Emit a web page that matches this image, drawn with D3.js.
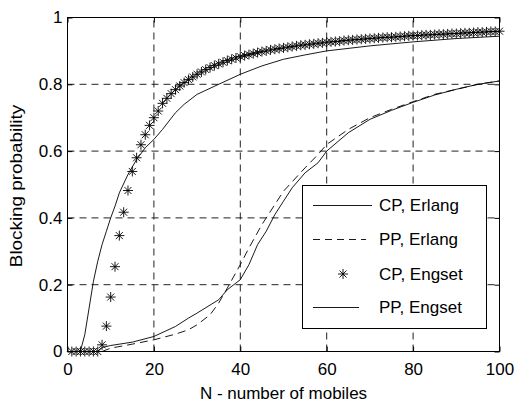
<!DOCTYPE html>
<html>
<head>
<meta charset="utf-8">
<script src="https://cdn.jsdelivr.net/npm/d3@7"></script>
<style>
  body { margin: 0; background: #fff; }
  svg text { font-family: "Liberation Sans", Arial, sans-serif; font-size: 17px; fill: #000; }
</style>
</head>
<body>
<div id="chart"></div>
<script>
// --- data ---
const xTicks = [0, 20, 40, 60, 80, 100];
const yTicks = [0, 0.2, 0.4, 0.6, 0.8, 1];
const legendLabels = ["CP, Erlang", "PP, Erlang", "CP, Engset", "PP, Engset"];

// CP, Erlang (solid)
const cpErlangN = [0, 1, 2, 3, 4, 5, 6, 7, 8, 9, 10, 11, 12, 14, 16, 18, 20, 22, 25, 27, 30, 35, 40, 45, 50, 55, 60, 70, 80, 90, 100];
const cpErlangP = [0, 0, 0, 0.002, 0.05, 0.13, 0.21, 0.27, 0.32, 0.36, 0.40, 0.435, 0.475, 0.53, 0.575, 0.61, 0.635, 0.665, 0.715, 0.74, 0.77, 0.80, 0.83, 0.855, 0.875, 0.888, 0.90, 0.915, 0.927, 0.937, 0.944];

// PP, Erlang (dashed)
const ppErlangN = [8, 10, 15, 20, 25, 28, 30, 33, 35, 37, 40, 42, 45, 48, 50, 55, 58, 60, 65, 70, 75, 80, 85, 90, 95, 100];
const ppErlangP = [0, 0.01, 0.022, 0.035, 0.052, 0.065, 0.08, 0.11, 0.145, 0.19, 0.26, 0.31, 0.38, 0.44, 0.48, 0.55, 0.59, 0.62, 0.665, 0.70, 0.725, 0.748, 0.77, 0.785, 0.80, 0.81];

// PP, Engset (solid)
const ppEngsetN = [7, 8, 10, 15, 20, 25, 28, 30, 35, 37, 39, 40, 42, 44, 46, 48, 50, 52, 55, 58, 60, 65, 70, 75, 80, 85, 90, 95, 100];
const ppEngsetP = [0, 0.012, 0.018, 0.028, 0.045, 0.075, 0.10, 0.115, 0.155, 0.185, 0.205, 0.215, 0.26, 0.32, 0.36, 0.41, 0.45, 0.49, 0.535, 0.565, 0.60, 0.655, 0.695, 0.722, 0.746, 0.768, 0.785, 0.80, 0.81];

// CP, Engset (asterisks), N = 1..100
const cpEngsetP = [
  0, 0, 0, 0, 0, 0, 0, 0.02, 0.076, 0.163,
  0.254, 0.347, 0.417, 0.482, 0.539, 0.58, 0.619, 0.649, 0.677, 0.70,
  0.72, 0.743, 0.758, 0.772, 0.784, 0.795, 0.805, 0.814, 0.822, 0.83,
  0.837, 0.844, 0.85, 0.856, 0.861, 0.866, 0.871, 0.875, 0.879, 0.883,
  0.886, 0.889, 0.892, 0.895, 0.898, 0.90, 0.903, 0.905, 0.907, 0.909,
  0.911, 0.913, 0.915, 0.917, 0.918, 0.92, 0.921, 0.923, 0.924, 0.926,
  0.927, 0.928, 0.929, 0.931, 0.932, 0.933, 0.934, 0.935, 0.936, 0.937,
  0.938, 0.939, 0.94, 0.941, 0.941, 0.942, 0.943, 0.944, 0.945, 0.946,
  0.946, 0.947, 0.948, 0.948, 0.949, 0.95, 0.95, 0.951, 0.952, 0.952,
  0.953, 0.954, 0.954, 0.955, 0.956, 0.956, 0.957, 0.958, 0.958, 0.959
];

const W = 516, H = 406;
const svg = d3.select("#chart").append("svg")
  .attr("width", W).attr("height", H);

const x = d3.scaleLinear().domain([0, 100]).range([67.5, 499.5]);
const y = d3.scaleLinear().domain([0, 1]).range([351.5, 17.5]);

// grid
const grid = svg.append("g")
  .attr("stroke", "#222")
  .attr("stroke-width", 1)
  .attr("stroke-dasharray", "7,5");
grid.selectAll(".vg").data(xTicks.slice(1, -1)).enter().append("line")
  .attr("x1", d => x(d)).attr("x2", d => x(d))
  .attr("y1", y(0)).attr("y2", y(1));
grid.selectAll(".hg").data(yTicks.slice(1, -1)).enter().append("line")
  .attr("x1", x(0)).attr("x2", x(100))
  .attr("y1", d => y(d)).attr("y2", d => y(d));

// axes (ticks point inward)
svg.append("g").attr("transform", `translate(0,${y(0)})`)
  .call(d3.axisBottom(x).tickValues(xTicks).tickSize(-5).tickPadding(11))
  .call(g => g.select(".domain").remove());
svg.append("g").attr("transform", `translate(${x(0)},0)`)
  .call(d3.axisLeft(y).tickValues(yTicks).tickSize(-5).tickPadding(5).tickFormat(d3.format("")))
  .call(g => g.select(".domain").remove());
svg.append("g").attr("transform", `translate(0,${y(1)})`)
  .call(d3.axisTop(x).tickValues(xTicks).tickSize(-5).tickFormat(""))
  .call(g => g.select(".domain").remove());
svg.append("g").attr("transform", `translate(${x(100)},0)`)
  .call(d3.axisRight(y).tickValues(yTicks).tickSize(-5).tickFormat(""))
  .call(g => g.select(".domain").remove());
svg.selectAll(".tick text").style("font-size", "17px").attr("fill", "#000");
svg.selectAll(".tick line").attr("stroke", "#000");

const line = d3.line().x(d => x(d[0])).y(d => y(d[1]));
const pairs = (ns, ps) => ns.map((n, i) => [n, ps[i]]);

// curves
svg.append("path").datum(pairs(cpErlangN, cpErlangP))
  .attr("d", line).attr("fill", "none").attr("stroke", "#000").attr("stroke-width", 0.9);
svg.append("path").datum(pairs(ppErlangN, ppErlangP))
  .attr("d", line).attr("fill", "none").attr("stroke", "#000").attr("stroke-width", 0.9)
  .attr("stroke-dasharray", "8,5");
svg.append("path").datum(pairs(ppEngsetN, ppEngsetP))
  .attr("d", line).attr("fill", "none").attr("stroke", "#000").attr("stroke-width", 0.9);

// asterisk marker
const star = "M0,-5V5M-5,0H5M-3.5,-3.5L3.5,3.5M-3.5,3.5L3.5,-3.5";
svg.append("g").selectAll("path")
  .data(cpEngsetP.map((p, i) => [i + 1, p]))
  .enter().append("path")
  .attr("transform", d => `translate(${x(d[0])},${y(d[1])})`)
  .attr("d", star).attr("fill", "none").attr("stroke", "#000").attr("stroke-width", 0.9);

// plot box
svg.append("rect")
  .attr("x", x(0)).attr("y", y(1))
  .attr("width", x(100) - x(0)).attr("height", y(0) - y(1))
  .attr("fill", "none").attr("stroke", "#000").attr("stroke-width", 1);

// axis titles
svg.append("text")
  .attr("x", (x(0) + x(100)) / 2).attr("y", 399)
  .attr("text-anchor", "middle")
  .text("N - number of mobiles");
svg.append("text")
  .attr("transform", `translate(22,186) rotate(-90) scale(1.11,1)`)
  .attr("text-anchor", "middle")
  .text("Blocking probability");

// legend
const leg = svg.append("g");
leg.append("rect")
  .attr("x", 302.5).attr("y", 185.5).attr("width", 184).attr("height", 143)
  .attr("fill", "#fff").attr("stroke", "#000").attr("stroke-width", 1);
const rowY = [205, 239, 274, 307];
const sample = [
  { x2: 372, dash: null },
  { x2: 366, dash: "7,5" },
  null,
  { x2: 359, dash: null }
];
legendLabels.forEach((lab, i) => {
  if (sample[i]) {
    leg.append("line")
      .attr("x1", 313).attr("x2", sample[i].x2)
      .attr("y1", rowY[i] + 0.5).attr("y2", rowY[i] + 0.5)
      .attr("stroke", "#000").attr("stroke-width", 0.9)
      .attr("stroke-dasharray", sample[i].dash);
  } else {
    leg.append("path")
      .attr("transform", `translate(343,${rowY[i]})`)
      .attr("d", star).attr("fill", "none").attr("stroke", "#000").attr("stroke-width", 0.9);
  }
  leg.append("text")
    .attr("x", 379).attr("y", rowY[i]).attr("dy", "0.35em")
    .text(lab);
});
</script>
</body>
</html>
